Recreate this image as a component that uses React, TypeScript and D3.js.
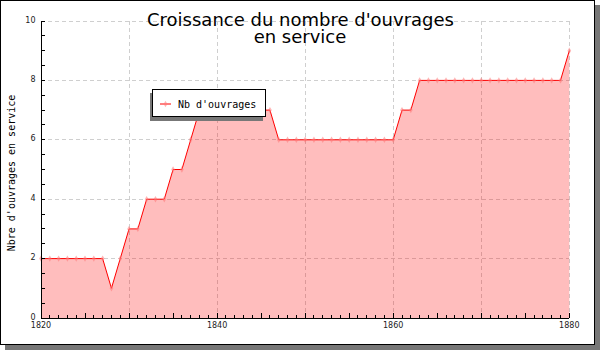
import React from "react";
import * as d3 from "d3";

const years: number[] = d3.range(1820, 1881);
const counts: number[] = [
  2, 2, 2, 2, 2, 2, 2, 2, // 1820-1827
  1, // 1828
  2, // 1829
  3, 3, // 1830-1831
  4, 4, 4, // 1832-1834
  5, 5, // 1835-1836
  6, // 1837
  7, 7, 7, 7, 7, 7, 7, 7, 7, // 1838-1846
  6, 6, 6, 6, 6, 6, 6, 6, 6, 6, 6, 6, 6, 6, // 1847-1860
  7, 7, // 1861-1862
  8, 8, 8, 8, 8, 8, 8, 8, 8, 8, 8, 8, 8, 8, 8, 8, 8, // 1863-1879
  9, // 1880
];
const titleLines = ["Croissance du nombre d'ouvrages", "en service"];
const yLabel = "Nbre d'ouvrages en service";
const legendLabel = "Nb d'ouvrages";
const yTickLabels = [0, 2, 4, 6, 8, 10];
const xTickLabels = [1820, 1840, 1860, 1880];

const W = 600;
const H = 350;
const left = 41;
const right = 569.3;
const top = 21;
const bottom = 318;

export default function App() {
  const x = d3.scaleLinear().domain([1820, 1880]).range([left, right]);
  const y = d3.scaleLinear().domain([0, 10]).range([bottom, top]);
  const pts = years.map((yr, i) => ({ yr, v: counts[i] }));

  const line = d3
    .line<{ yr: number; v: number }>()
    .x((d) => x(d.yr))
    .y((d) => y(d.v));
  const area = d3
    .area<{ yr: number; v: number }>()
    .x((d) => x(d.yr))
    .y0(y(0))
    .y1((d) => y(d.v));
  const diamond = d3.symbol().type(d3.symbolDiamond).size(12)() || "";

  const gridX = d3.range(1830, 1881, 10);
  const gridY = d3.range(2, 11, 2);
  const minorX = d3.range(1820, 1881, 1);
  const minorY = d3.range(0, 10.01, 0.5);

  const mono = "'DejaVu Sans Mono', monospace";
  const sans = "'DejaVu Sans', sans-serif";

  return (
    <svg
      width={W}
      height={H}
      style={{ position: "fixed", left: 0, top: 0, display: "block" }}
    >
      <rect x={0} y={0} width={W} height={H} fill="#fff" />
      {/* frame shadow */}
      <rect x={5} y={5} width={595} height={345} fill="#777" />
      <rect x={0.5} y={0.5} width={594} height={344} fill="#fff" stroke="#000" strokeWidth={1} />

      {/* grid */}
      <g stroke="#cfcfcf" strokeWidth={1} strokeDasharray="4,3" shapeRendering="crispEdges">
        {gridX.map((g) => (
          <line key={"gx" + g} x1={x(g)} x2={x(g)} y1={top} y2={bottom} />
        ))}
        {gridY.map((g) => (
          <line key={"gy" + g} x1={left} x2={right} y1={y(g)} y2={y(g)} />
        ))}
      </g>

      {/* area + line */}
      <path d={area(pts) || ""} fill="rgba(255,0,0,0.26)" />
      <path d={line(pts) || ""} fill="none" stroke="#ff0000" strokeWidth={1} />
      {pts.map((p) => (
        <path
          key={"m" + p.yr}
          d={diamond}
          transform={`translate(${x(p.yr)},${y(p.v)})`}
          fill="rgba(255,120,120,0.55)"
        />
      ))}

      {/* axes */}
      <g stroke="#000" strokeWidth={1} shapeRendering="crispEdges">
        <line x1={left} x2={left} y1={top} y2={bottom} />
        <line x1={left} x2={right} y1={bottom} y2={bottom} />
        {minorX.map((t) => (
          <line
            key={"tx" + t}
            x1={x(t)}
            x2={x(t)}
            y1={bottom}
            y2={bottom - (t % 5 === 0 ? 5 : 3)}
          />
        ))}
        {minorY.map((t) => (
          <line key={"ty" + t} x1={left} x2={left + 4} y1={y(t)} y2={y(t)} />
        ))}
      </g>

      {/* tick labels */}
      <g fontFamily={sans} fontSize={8} fill="#222">
        {yTickLabels.map((t) => (
          <text key={"yl" + t} x={35.5} y={y(t) + 1.5} textAnchor="end">
            {t}
          </text>
        ))}
        {xTickLabels.map((t) => (
          <text key={"xl" + t} x={x(t)} y={328} textAnchor="middle">
            {t}
          </text>
        ))}
      </g>

      {/* title */}
      <g fontFamily={sans} fontSize={18} fill="#000" textAnchor="middle">
        <text x={300.5} y={26}>
          {titleLines[0]}
        </text>
        <text x={300} y={43}>
          {titleLines[1]}
        </text>
      </g>

      {/* y label */}
      <text
        transform={`translate(15,${173}) rotate(-90)`}
        fontFamily={mono}
        fontSize={10}
        textAnchor="middle"
        fill="#000"
      >
        {yLabel}
      </text>

      {/* legend */}
      <rect x={150} y={93} width={113} height={28} fill="#777" />
      <rect x={152.5} y={89.5} width={113} height={27} fill="#fff" stroke="#000" strokeWidth={1} shapeRendering="crispEdges" />
      <line x1={160} x2={171} y1={104} y2={104} stroke="#ff0000" strokeWidth={1} />
      <path d={diamond} transform="translate(165.5,104)" fill="rgba(255,120,120,0.55)" />
      <text x={178} y={107.5} fontFamily={mono} fontSize={10} fill="#000">
        {legendLabel}
      </text>
    </svg>
  );
}
